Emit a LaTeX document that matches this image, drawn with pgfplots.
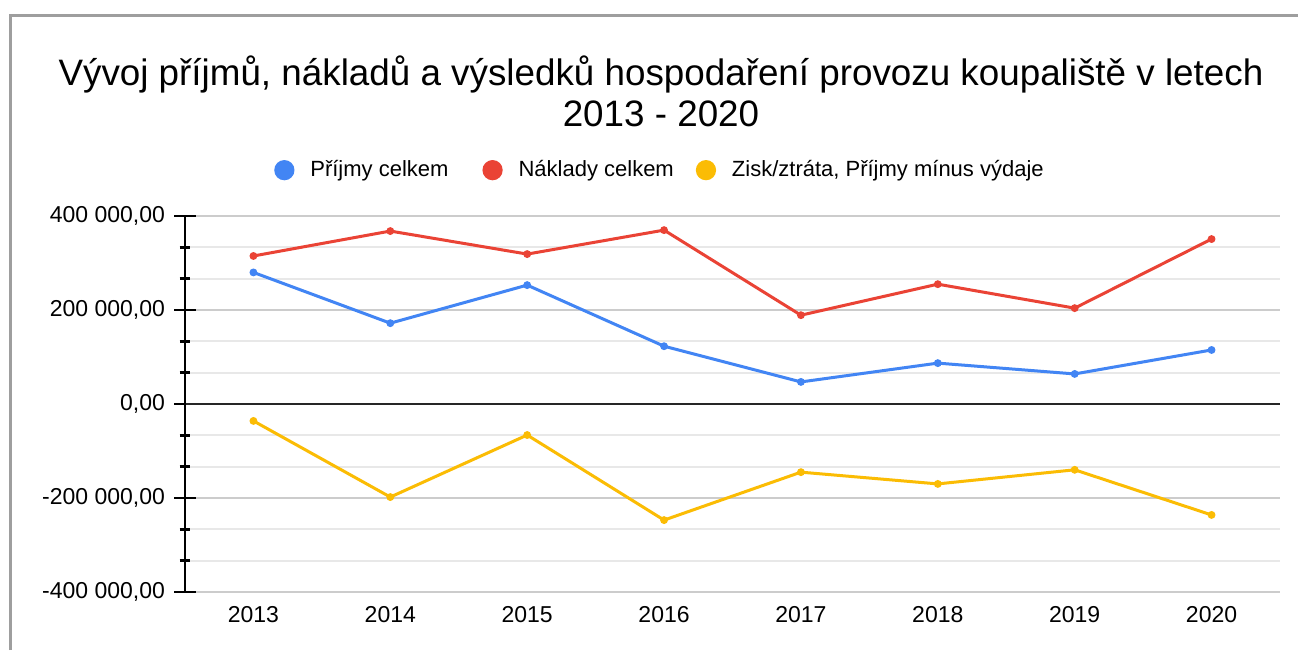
\documentclass[border=0pt]{standalone}
\usepackage{fontspec}
\setmainfont{Liberation Sans}
\usepackage{pgfplots}
\pgfplotsset{compat=1.18}
\definecolor{cblue}{HTML}{4285F4}
\definecolor{cred}{HTML}{EA4335}
\definecolor{cyellow}{HTML}{FBBC04}
\definecolor{frame}{HTML}{9E9E9E}
\begin{document}
\begin{tikzpicture}
\path[use as bounding box, fill=white] (0pt,0pt) rectangle (649pt,325pt);
\draw[line width=1.5pt, color=frame] (5pt,0pt) -- (5pt,317.5pt) -- (649pt,317.5pt);
\node[font=\fontsize{18.4}{20.5}\selectfont, align=center] at (330.5pt,279.5pt) {Vývoj příjmů, nákladů a výsledků hospodaření provozu koupaliště v letech\\2013 - 2020};
\begin{axis}[
  at={(92.5pt,29pt)}, anchor=south west, scale only axis,
  width=547.5pt, height=188pt, clip=false,
  xmin=2012.5, xmax=2020.5, ymin=-400000, ymax=400000,
  axis x line*=bottom, axis y line*=left,
  x axis line style={draw=none},
  y axis line style={black, line width=1.3pt, -},
  xtick={2013,2014,2015,2016,2017,2018,2019,2020},
  xticklabels={2013,2014,2015,2016,2017,2018,2019,2020},
  xticklabel style={yshift=2pt},
  ytick={-400000,-200000,0,200000,400000},
  minor y tick num=2,
  scaled y ticks=false,
  yticklabel style={xshift=-1pt, /pgf/number format/.cd, fixed, fixed zerofill, precision=2, use comma, 1000 sep={\ }, assume math mode=true},
  ymajorgrids, yminorgrids,
  major grid style={color=black!20, line width=0.9pt},
  minor grid style={color=black!9, line width=0.9pt},
  tick align=center,
  major tick length=11pt, minor tick length=5.5pt,
  y tick style={black, line width=1.2pt},
  x tick style={draw=none},
  tick label style={font=\fontsize{11.5}{13}\selectfont},
  legend columns=3,
  legend style={at={(0.4347,1.122)}, anchor=center, draw=none, fill=none, font=\fontsize{11}{13}\selectfont, /tikz/column 2/.style={column sep=15pt}, /tikz/column 4/.style={column sep=9pt}},
  legend image code/.code={\fill[#1] (0pt,0pt) circle (4.3pt); \path[draw=none,fill=none] (-4.3pt,0pt) -- (11pt,0pt);},
  every axis plot/.append style={line width=1.5pt, mark=*, mark size=1.7pt, mark options={solid, line width=0.5pt}},
]
\draw[black!85, line width=1.1pt] (axis cs:2012.5,0) -- (axis cs:2020.5,0);
\addplot[color=cblue] coordinates {(2013,280000)(2014,172000)(2015,253000)(2016,123000)(2017,47000)(2018,87000)(2019,64000)(2020,115000)};
\addlegendentry{Příjmy celkem}
\addplot[color=cred] coordinates {(2013,315000)(2014,368000)(2015,319000)(2016,370000)(2017,189000)(2018,255000)(2019,204000)(2020,351000)};
\addlegendentry{Náklady celkem}
\addplot[color=cyellow] coordinates {(2013,-36000)(2014,-198000)(2015,-66000)(2016,-247000)(2017,-145000)(2018,-170000)(2019,-140000)(2020,-236000)};
\addlegendentry{Zisk/ztráta, Příjmy mínus výdaje}
\draw[black, line width=1.3pt] (axis cs:2012.5,-400000) -- (axis cs:2012.5,400000);
\end{axis}
\end{tikzpicture}
\end{document}
